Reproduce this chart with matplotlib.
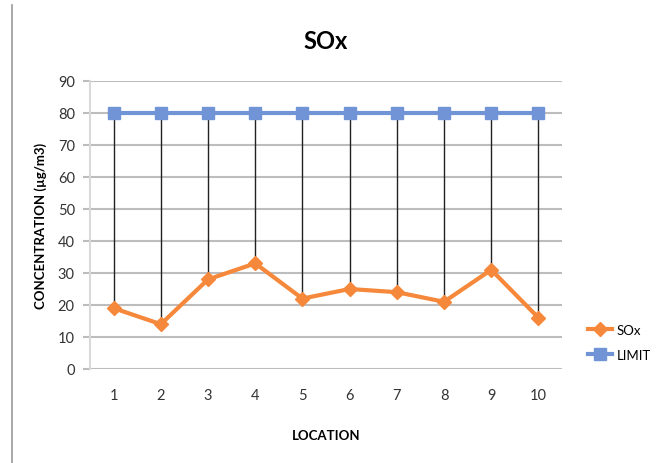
import numpy as np
import matplotlib.pyplot as plt
from matplotlib.lines import Line2D

plt.rcParams['font.family'] = ['Lato', 'DejaVu Sans']

# Datos
ubicaciones = [1, 2, 3, 4, 5, 6, 7, 8, 9, 10]
sox = [19, 14, 28, 33, 22, 25, 24, 21, 31, 16]
limite = [80, 80, 80, 80, 80, 80, 80, 80, 80, 80]
yticks = [0, 10, 20, 30, 40, 50, 60, 70, 80, 90]

naranja = '#F5883A'
azul = '#7094D6'

fig = plt.figure(figsize=(6.62, 4.64), dpi=100)
ax = fig.add_axes([0.136, 0.2026, 0.713, 0.6207])

# lineas verticales entre limite y SOx
ax.vlines(ubicaciones, sox, limite, colors='#222222', linewidth=1.0, zorder=2)

ax.plot(ubicaciones, limite, color=azul, linewidth=3, marker='s', markersize=9,
        markerfacecolor=azul, markeredgecolor=azul, zorder=3, label='LIMIT')
ax.plot(ubicaciones, sox, color=naranja, linewidth=3, marker='D', markersize=7,
        markerfacecolor=naranja, markeredgecolor=naranja, zorder=4, label='SOx')

ax.set_xlim(0.5, 10.5)
ax.set_ylim(0, 90)
ax.set_yticks(yticks)
ax.set_xticks(ubicaciones)
ax.grid(axis='y', color='#BDBDBD', linewidth=1.5, zorder=0)
ax.set_axisbelow(True)
for s in ['top', 'right', 'bottom']:
    ax.spines[s].set_visible(False)
ax.spines['left'].set_color('#D9D9D9')
ax.spines['left'].set_linewidth(1.5)
ax.tick_params(axis='y', length=5, color='#BDBDBD', width=1.5, labelsize=10.5, labelcolor='#333333', pad=6)
ax.tick_params(axis='x', length=0, labelsize=10.5, labelcolor='#333333', pad=14)

ax.set_title('SOx', fontsize=17, fontweight='bold', pad=24)
ax.set_xlabel('LOCATION', fontsize=9.5, fontweight='bold', labelpad=19)
ax.set_ylabel('CONCENTRATION (µg/m3)', fontsize=9.5, fontweight='bold', labelpad=8)

h = [Line2D([0], [0], color=naranja, linewidth=3, marker='D', markersize=7),
     Line2D([0], [0], color=azul, linewidth=3, marker='s', markersize=8)]
fig.legend(h, ['SOx', 'LIMIT'], loc='center left', bbox_to_anchor=(0.87, 0.26),
           frameon=False, fontsize=9.5, handlelength=1.8, handletextpad=0.4,
           labelspacing=1.0)

fig.add_artist(Line2D([0.018, 0.018], [0, 0.987], color='#999999', linewidth=1.2))

fig.savefig('out.png', dpi=100)
